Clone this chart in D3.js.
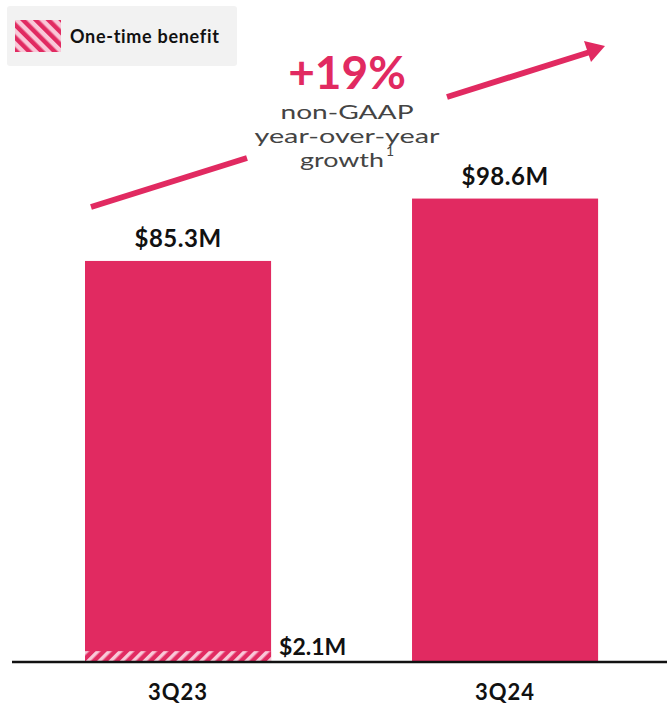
<!DOCTYPE html>
<html>
<head>
<meta charset="utf-8">
<script src="https://cdn.jsdelivr.net/npm/d3@7"></script>
<style>
  body { margin: 0; background: #fff; }
  svg { display: block; font-family: Lato, "Open Sans", sans-serif; }
</style>
</head>
<body>
<div id="chart"></div>
<script>
// data
var categories = ["3Q23", "3Q24"];
var totals = [85.3, 98.6];
var oneTime = [2.1, 0];
var totalLabels = ["$85.3M", "$98.6M"];
var oneTimeLabels = ["$2.1M", ""];
var growthLines = ["non-GAAP", "year-over-year", "growth"];

var width = 667, height = 707;
var pink = "#e12a61", lightPink = "#f9c8d8";

var svg = d3.select("#chart").append("svg")
  .attr("width", width)
  .attr("height", height);

var defs = svg.append("defs");
var pat = defs.append("pattern")
  .attr("id", "hatch")
  .attr("patternUnits", "userSpaceOnUse")
  .attr("width", 9)
  .attr("height", 9)
  .attr("patternTransform", "rotate(-45)");
pat.append("rect").attr("width", 9).attr("height", 9).attr("fill", lightPink);
pat.append("rect").attr("width", 4.5).attr("height", 9).attr("fill", pink);

var x = d3.scaleBand()
  .domain(categories)
  .range([19.6, 663.5])
  .paddingInner(0.431)
  .paddingOuter(0.2);

var y = d3.scaleLinear()
  .domain([0, 100])
  .range([661, 192]);

var rows = categories.map(function(c, i) {
  return { cat: c, total: totals[i], one: oneTime[i], label: totalLabels[i], oneLabel: oneTimeLabels[i] };
});

// bars
svg.append("g").selectAll("rect")
  .data(rows)
  .enter().append("rect")
  .attr("x", function(d) { return x(d.cat); })
  .attr("width", x.bandwidth())
  .attr("y", function(d) { return y(d.total); })
  .attr("height", function(d) { return y(0) - y(d.total); })
  .attr("fill", pink);

// one-time benefit hatch (stripes)
var hp = defs.append("pattern")
  .attr("id", "hatch2")
  .attr("patternUnits", "userSpaceOnUse")
  .attr("width", 8)
  .attr("height", 8)
  .attr("patternTransform", "rotate(45)");
hp.append("rect").attr("width", 8).attr("height", 8).attr("fill", pink);
hp.append("rect").attr("width", 3.5).attr("height", 8).attr("fill", lightPink);

svg.append("g").selectAll("rect")
  .data(rows.filter(function(d) { return d.one > 0; }))
  .enter().append("rect")
  .attr("x", function(d) { return x(d.cat); })
  .attr("width", x.bandwidth())
  .attr("y", function(d) { return y(d.one); })
  .attr("height", function(d) { return y(0) - y(d.one); })
  .attr("fill", "url(#hatch2)");

// value labels
svg.append("g").selectAll("text")
  .data(rows)
  .enter().append("text")
  .attr("x", function(d) { return x(d.cat) + x.bandwidth() / 2; })
  .attr("y", function(d) { return y(d.total) - 14; })
  .attr("text-anchor", "middle")
  .style("font-size", "24px")
  .style("font-weight", "bold")
  .style("letter-spacing", "0.5px")
  .attr("fill", "#111")
  .text(function(d) { return d.label; });

svg.append("g").selectAll("text")
  .data(rows.filter(function(d) { return d.one > 0; }))
  .enter().append("text")
  .attr("x", function(d) { return x(d.cat) + x.bandwidth() + 8; })
  .attr("y", function(d) { return y(0) - 6; })
  .style("font-size", "23px")
  .style("font-weight", "bold")
  .attr("fill", "#111")
  .text(function(d) { return d.oneLabel; });

// baseline axis
svg.append("line")
  .attr("x1", 12).attr("x2", width)
  .attr("y1", y(0) + 1).attr("y2", y(0) + 1)
  .attr("stroke", "#111")
  .attr("stroke-width", 2.5);

var xAxis = svg.append("g")
  .attr("transform", "translate(0," + (y(0) + 1) + ")")
  .call(d3.axisBottom(x).tickSize(0).tickPadding(22));
xAxis.select(".domain").remove();
xAxis.selectAll("text")
  .attr("dy", "0.71em")
  .style("font-family", "Lato, sans-serif")
  .style("font-size", "22px")
  .style("font-weight", "bold")
  .style("letter-spacing", "1px")
  .attr("fill", "#111");

// legend
var leg = svg.append("g");
leg.append("rect")
  .attr("x", 7).attr("y", 6)
  .attr("width", 230).attr("height", 60)
  .attr("rx", 3)
  .attr("fill", "#f2f2f2");
leg.append("rect")
  .attr("x", 15).attr("y", 20)
  .attr("width", 46).attr("height", 32)
  .attr("fill", "url(#hatch)");
leg.append("text")
  .attr("x", 70).attr("y", 43)
  .style("font-size", "18px")
  .style("font-weight", "bold")
  .style("letter-spacing", "0.7px")
  .attr("fill", "#111")
  .text("One-time benefit");

// growth arrow
svg.append("line")
  .attr("x1", 91).attr("y1", 207)
  .attr("x2", 247).attr("y2", 158)
  .attr("stroke", pink).attr("stroke-width", 6);
svg.append("line")
  .attr("x1", 447).attr("y1", 97)
  .attr("x2", 590).attr("y2", 52)
  .attr("stroke", pink).attr("stroke-width", 6);
svg.append("path")
  .attr("d", "M605,46 L584,41 L591,62 Z")
  .attr("fill", pink);

// growth text
var gx = 347;
svg.append("text")
  .attr("x", gx).attr("y", 89)
  .attr("text-anchor", "middle")
  .style("font-size", "46px")
  .style("font-weight", "bold")
  .attr("fill", pink)
  .text("+19%");

var lineW = [133, 185, 84];
svg.append("g").selectAll("text")
  .data(growthLines)
  .enter().append("text")
  .attr("x", function(d, i) { return i == 2 ? gx - 5 : gx; })
  .attr("y", function(d, i) { return 119 + i * 24; })
  .attr("text-anchor", "middle")
  .attr("textLength", function(d, i) { return lineW[i]; })
  .attr("lengthAdjust", "spacingAndGlyphs")
  .style("font-size", "20px")
  .style("font-weight", 400)
  .attr("fill", "#444")
  .text(function(d) { return d; });
svg.append("text")
  .attr("x", gx + 39).attr("y", 156)
  .style("font-size", "14px")
  .style("font-weight", 400)
  .attr("fill", "#444")
  .text("1");
</script>
</body>
</html>
